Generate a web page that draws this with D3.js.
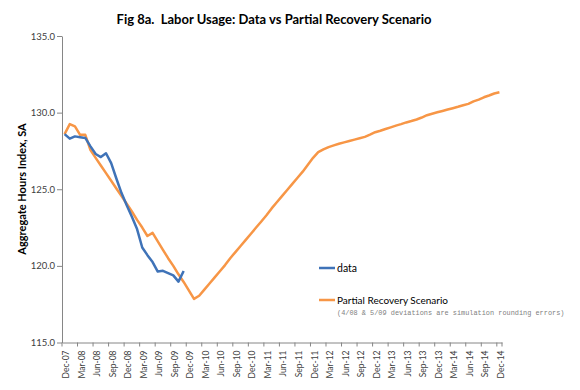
<!DOCTYPE html>
<html>
<head>
<meta charset="utf-8">
<script src="https://cdn.jsdelivr.net/npm/d3@7"></script>
<style>
  body { margin: 0; background: #fff; }
  svg { font-family: Lato, "Open Sans", sans-serif; }
</style>
</head>
<body>
<div id="chart"></div>
<script>
// monthly categories Dec-07 .. Dec-14
var months = d3.utcMonths(new Date(Date.UTC(2007, 11, 1)), new Date(Date.UTC(2015, 0, 1)))
var fmt = d3.utcFormat("%b-%y")
var monthLabels = months.map(fmt)

var yTicks = [115, 120, 125, 130, 135]

// data: Dec-07 .. Nov-09
var hoursData = [128.6, 128.3, 128.45, 128.4, 128.35, 127.8, 127.3, 127.1, 127.35, 126.7, 125.7, 124.75,
  123.95, 123.2, 122.4, 121.2, 120.7, 120.25, 119.63, 119.68, 119.53, 119.38, 118.97, 119.67]

// partial recovery scenario: Dec-07 .. Dec-14
var scenario = [128.6, 129.25, 129.1, 128.55, 128.55, 127.55, 127.05, 126.55, 126.05, 125.55, 125.05, 124.55,
  124.05, 123.55, 123.0, 122.5, 121.95, 122.15, 121.6, 121.05, 120.5, 120.0, 119.45, 118.95,
  118.4, 117.85, 118.05, 118.45, 118.85, 119.25, 119.65, 120.05, 120.5, 120.9, 121.3, 121.7,
  122.1, 122.5, 122.9, 123.3, 123.75, 124.15, 124.55, 124.95, 125.35, 125.75, 126.15, 126.6,
  127.05, 127.42, 127.6, 127.75, 127.86, 127.97, 128.06, 128.15, 128.24, 128.33, 128.42, 128.56,
  128.72, 128.82, 128.93, 129.04, 129.15, 129.25, 129.36, 129.45, 129.55, 129.68, 129.83, 129.93,
  130.02, 130.11, 130.2, 130.29, 130.38, 130.48, 130.57, 130.73, 130.85, 131.0, 131.12, 131.25, 131.33]

var width = 580
var height = 390
var margin = {top: 36, bottom: 47.5, left: 62, right: 78}

var svg = d3.select("#chart").append("svg")
  .attr("width", width)
  .attr("height", height)

var x = d3.scaleBand()
  .domain(monthLabels)
  .range([margin.left, width - margin.right])
  .padding(0)

var y = d3.scaleLinear()
  .domain([115, 135])
  .range([height - margin.bottom, margin.top])

var bw = x.bandwidth()
var cx = function(i) { return x(monthLabels[i]) + bw / 2 }

svg.append("text")
  .attr("x", 274)
  .attr("y", 24)
  .attr("text-anchor", "middle")
  .attr("font-weight", "bold")
  .attr("font-size", "13px")
  .attr("fill", "#000")
  .style("white-space", "pre")
  .text("Fig 8a.  Labor Usage: Data vs Partial Recovery Scenario")

// y axis
var yAxis = svg.append("g")
  .attr("transform", `translate(${margin.left},0)`)
  .call(d3.axisLeft(y).tickValues(yTicks).tickFormat(d3.format(".1f")).tickSize(5).tickSizeOuter(0))
yAxis.select(".domain").attr("stroke", "#868686")
yAxis.selectAll(".tick line").attr("stroke", "#868686")
yAxis.selectAll(".tick text")
  .attr("font-size", "9.5px")
  .attr("font-family", "Lato, sans-serif")
  .attr("fill", "#404040")
  .attr("x", -7)

svg.append("text")
  .attr("transform", "translate(22,189) rotate(-90)")
  .attr("text-anchor", "middle")
  .attr("dy", "0.35em")
  .attr("font-weight", "bold")
  .attr("font-size", "11px")
  .attr("fill", "#000")
  .text("Aggregate Hours Index, SA")

// x axis: labels every 3rd month, ticks at category boundaries
var quarterLabels = monthLabels.filter(function(d, i) { return i % 3 == 0 })
var xAxis = svg.append("g")
  .attr("transform", `translate(0,${height - margin.bottom})`)
  .call(d3.axisBottom(x).tickValues(quarterLabels).tickSize(4).tickSizeOuter(0))
xAxis.select(".domain").attr("stroke", "#868686")
xAxis.selectAll(".tick line")
  .attr("stroke", "#868686")
  .attr("x1", -bw / 2)
  .attr("x2", -bw / 2)
xAxis.selectAll(".tick text")
  .attr("font-size", "8.5px")
  .attr("font-family", "Lato, sans-serif")
  .attr("fill", "#404040")
  .attr("text-anchor", "end")
  .attr("transform", "rotate(-90)")
  .attr("x", -8)
  .attr("y", 1.5)
  .attr("dy", "0.35em")
xAxis.append("line")
  .attr("x1", width - margin.right)
  .attr("x2", width - margin.right)
  .attr("y1", 0)
  .attr("y2", 4)
  .attr("stroke", "#868686")

var line = d3.line()
  .x(function(d, i) { return cx(i) })
  .y(function(d) { return y(d) })

svg.append("path")
  .datum(scenario)
  .attr("fill", "none")
  .attr("stroke", "#F79646")
  .attr("stroke-width", 2.5)
  .attr("stroke-linejoin", "round")
  .attr("d", line)

svg.append("path")
  .datum(hoursData)
  .attr("fill", "none")
  .attr("stroke", "#3F73B8")
  .attr("stroke-width", 2.5)
  .attr("stroke-linejoin", "round")
  .attr("d", line)

// legend
var legend = svg.append("g")
legend.append("line")
  .attr("x1", 319).attr("x2", 335).attr("y1", 268).attr("y2", 268)
  .attr("stroke", "#3F73B8").attr("stroke-width", 2.5)
legend.append("text")
  .attr("x", 337).attr("y", 268).attr("dy", "0.35em")
  .attr("font-size", "10.5px").attr("fill", "#000")
  .text("data")
legend.append("line")
  .attr("x1", 319).attr("x2", 335).attr("y1", 300).attr("y2", 300)
  .attr("stroke", "#F79646").attr("stroke-width", 2.5)
legend.append("text")
  .attr("x", 337).attr("y", 300).attr("dy", "0.35em")
  .attr("font-size", "10px").attr("fill", "#000")
  .text("Partial Recovery Scenario")
legend.append("text")
  .attr("x", 337).attr("y", 312.5).attr("dy", "0.35em")
  .attr("font-size", "6.9px").attr("fill", "#7f7f7f")
  .style("font-family", "'Liberation Mono', monospace")
  .text("(4/08 & 5/09 deviations are simulation rounding errors)")
</script>
</body>
</html>
